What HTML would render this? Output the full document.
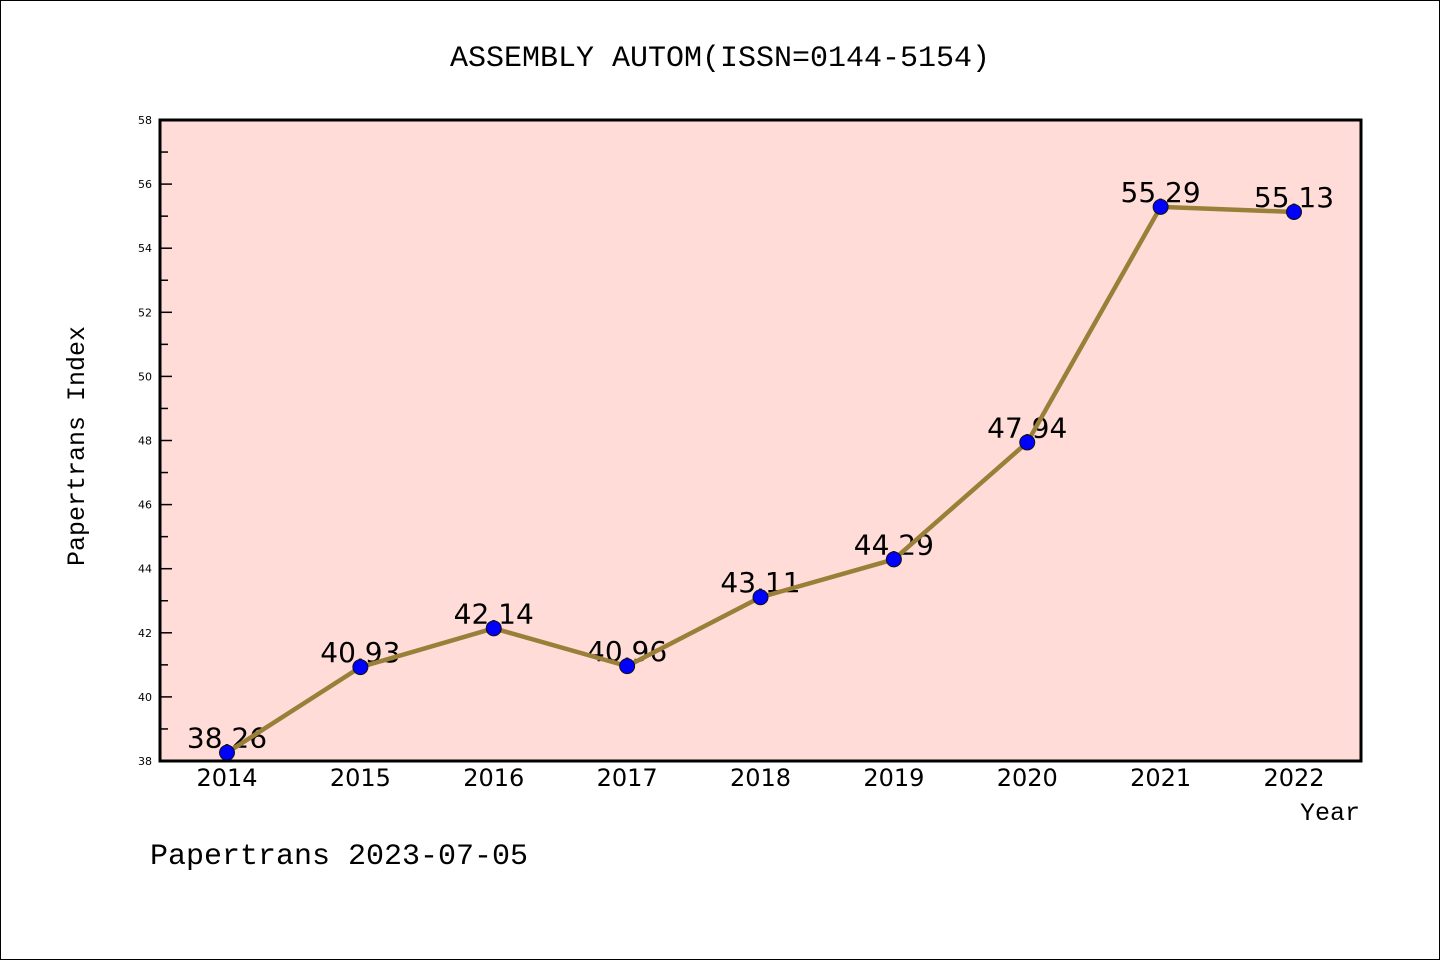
<!DOCTYPE html>
<html><head><meta charset="utf-8"><style>
html,body{margin:0;padding:0;background:#fff}
svg{display:block}
text{font-family:"DejaVu Sans","Liberation Sans",sans-serif}
.mono{font-family:"Liberation Mono","DejaVu Sans Mono",monospace}
</style></head><body>
<svg id="chart" width="1440" height="960" xmlns="http://www.w3.org/2000/svg">
<rect x="0.5" y="0.5" width="1439" height="959" fill="#fff" stroke="#000" stroke-width="1"/>
<text class="mono" x="720" y="66" font-size="30" text-anchor="middle">ASSEMBLY AUTOM(ISSN=0144-5154)</text>
<rect x="160" y="120" width="1201" height="641" fill="#ffdcd8"/>
<g id="ticks"></g>
<g id="series"></g>
<rect x="160" y="120" width="1201" height="641" fill="none" stroke="#000" stroke-width="3"/>
<text class="mono" transform="translate(84,446) rotate(-90)" font-size="25" text-anchor="middle">Papertrans Index</text>
<text class="mono" x="1360" y="820" font-size="25" text-anchor="end">Year</text>
<text class="mono" x="150" y="864" font-size="30">Papertrans 2023-07-05</text>
</svg>
<script>
const categories = ["2014","2015","2016","2017","2018","2019","2020","2021","2022"];
const values = [38.26,40.93,42.14,40.96,43.11,44.29,47.94,55.29,55.13];
const valueLabels = ["38.26","40.93","42.14","40.96","43.11","44.29","47.94","55.29","55.13"];
const yTicks = [38,40,42,44,46,48,50,52,54,56,58];
const yMin = 38, yMax = 58;
const NS = "http://www.w3.org/2000/svg";
const x = i => 227 + i * (1294 - 227) / (categories.length - 1);
const y = v => 761 - (v - yMin) / (yMax - yMin) * 641;
function mk(tag, attrs, parent){const e=document.createElementNS(NS,tag);for(const k in attrs)e.setAttribute(k,attrs[k]);parent.appendChild(e);return e;}
const tg = document.getElementById('ticks');
yTicks.forEach((t,i)=>{
  const l = mk('line',{x1:160,x2:172,y1:y(t),y2:y(t),stroke:'#000','stroke-width':1.5},tg);
  
  
  const tx = mk('text',{x:152,y:y(t)+4,'font-size':11,'text-anchor':'end'},tg);
  tx.textContent = t;
  
  
  if(i < yTicks.length-1){
    const m = mk('line',{x1:160,x2:168,y1:y(t+1),y2:y(t+1),stroke:'#000','stroke-width':1.5},tg);
    
    
  }
});
categories.forEach((c,i)=>{
  const tx = mk('text',{x:x(i),y:786,'font-size':24,'text-anchor':'middle'},tg);
  tx.textContent = c;
  
  
});
const sg = document.getElementById('series');
values.forEach((v,i)=>{
  const tx = mk('text',{x:x(i),y:y(v)-5,'font-size':28,'text-anchor':'middle'},sg);
  tx.textContent = valueLabels[i];
  
  
});
const pl = mk('polyline',{points:values.map((v,i)=>x(i)+','+y(v)).join(' '),fill:'none',stroke:'#9a7f38','stroke-width':4.5,'stroke-linejoin':'round'},sg);


values.forEach((v,i)=>{
  const c = mk('circle',{cx:x(i),cy:y(v),r:7.5,fill:'#0000ff',stroke:'#111','stroke-width':1},sg);
  
  
});
</script>
</body></html>
